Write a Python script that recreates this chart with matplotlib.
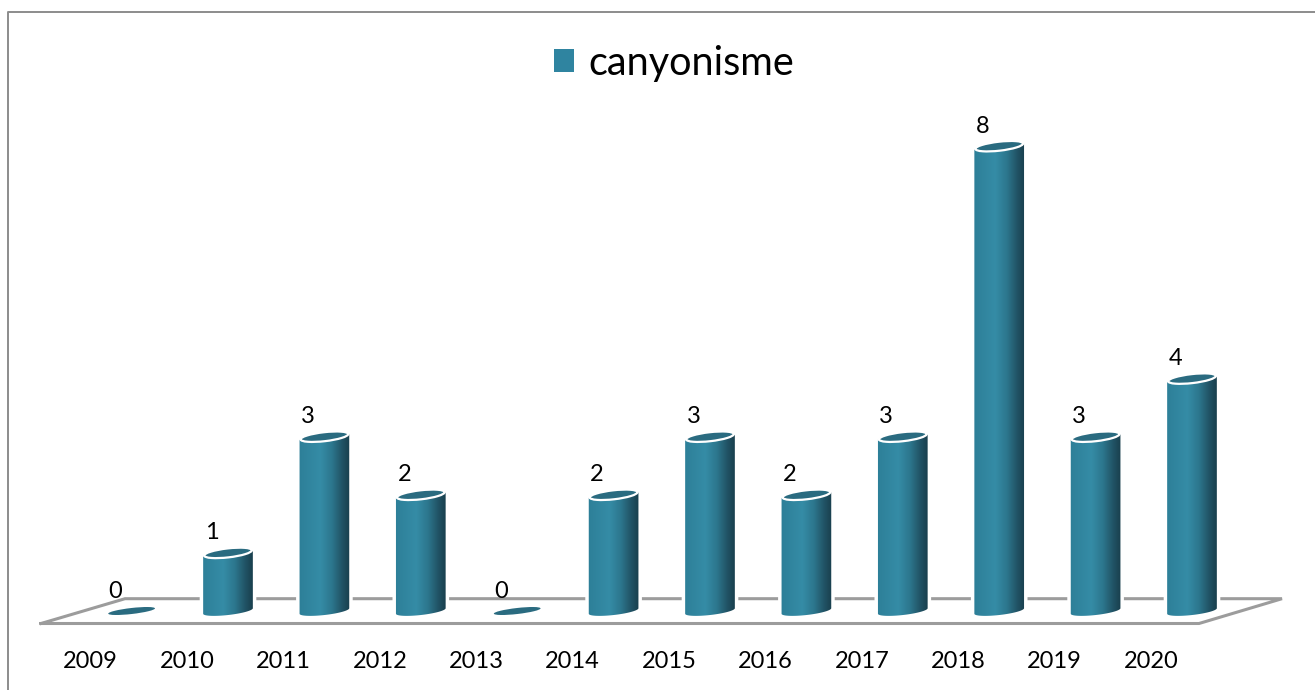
import numpy as np
import matplotlib
matplotlib.use("Agg")
import matplotlib.pyplot as plt
from matplotlib.patches import Ellipse, PathPatch, Patch
from matplotlib.path import Path
from matplotlib.lines import Line2D
from matplotlib.transforms import Affine2D, ScaledTranslation
from matplotlib.colors import LinearSegmentedColormap

years = ["2009", "2010", "2011", "2012", "2013", "2014", "2015", "2016", "2017", "2018", "2019", "2020"]
values = [0, 1, 3, 2, 0, 2, 3, 2, 3, 8, 3, 4]
series_name = "canyonisme"

W, H = 1315, 690
plt.rcParams["font.family"] = ["Lato", "DejaVu Sans"]
fig = plt.figure(figsize=(W / 100, H / 100), dpi=100)

# pixel transform (origin top-left)
px = Affine2D().scale(1, -1).translate(0, H)

AX_BOTTOM = 640
X0, DX = 131.6, 96.4
Y0, DY = 611.0, 58.1
ax = fig.add_axes([0, (H - AX_BOTTOM) / H, 1, AX_BOTTOM / H])
ax.set_xlim(-X0 / DX, (W - X0) / DX)
ax.set_ylim((Y0 - AX_BOTTOM) / DY, Y0 / DY)
for s in ax.spines.values():
    s.set_visible(False)
ax.set_yticks([])
x = np.arange(len(years))
ax.set_xticks(x, years, fontsize=17, color="black")
ax.tick_params(axis="x", length=0, pad=8)
for lab in ax.get_xticklabels():
    lab.set_transform(lab.get_transform() + ScaledTranslation(-41 / 100, 0, fig.dpi_scale_trans))

# outer frame
GRAY = "#8c8c8c"
fig.add_artist(Line2D([8, 8, W], [H, 12, 12], color=GRAY, lw=1.4, transform=px))

# floor
FLOOR = "#9c9c9c"
ax.add_line(Line2D([41, 125, 1282, 1199, 41], [623.5, 598.7, 598.7, 623.5, 623.5], color=FLOOR,
                   lw=2.2, transform=px, zorder=1, solid_joinstyle="miter"))

cmap = LinearSegmentedColormap.from_list("cyl", [
    (0.0, "#2d7f98"), (0.42, "#358ca6"), (0.65, "#2c768d"), (0.85, "#215365"), (1.0, "#193f4d")])
grad = np.linspace(0, 1, 256).reshape(1, -1)

A_BODY, B_BODY = 25.0, 4.0
TILT = np.deg2rad(-6.5)

def arc(cx, cy, t):
    ex, ey = A_BODY * np.cos(t), B_BODY * np.sin(t)
    return cx + ex * np.cos(TILT) - ey * np.sin(TILT), cy + ex * np.sin(TILT) + ey * np.cos(TILT)

for xi, v in zip(x, values):
    cx = X0 + DX * xi
    cy = Y0 - DY * v
    if v > 0:
        # lower arc of the base, then upper arc of the top
        t1 = np.linspace(np.pi, 0, 40)
        bx, by = arc(cx, Y0, t1)
        t2 = np.linspace(0, np.pi, 40)
        tx, ty = arc(cx, cy, t2)
        verts = np.r_[np.c_[bx, by], np.c_[tx, ty], [[bx[0], by[0]]]]
        codes = [Path.MOVETO] + [Path.LINETO] * (len(verts) - 2) + [Path.CLOSEPOLY]
        path = Path(verts, codes)
        halo = PathPatch(path, facecolor="white", edgecolor="white", lw=5, transform=px, zorder=2)
        ax.add_patch(halo)
        w = 25.5 / DX
        im = ax.imshow(grad, cmap=cmap, aspect="auto", extent=(xi - w, xi + w, -0.2, v + 0.2),
                       zorder=3, interpolation="bilinear")
        clip = PathPatch(path, facecolor="none", edgecolor="none", transform=px)
        ax.add_patch(clip)
        im.set_clip_path(clip)
        ax.add_patch(Ellipse((cx, cy), 48, 9, angle=-6.5, facecolor="#2a6b80", edgecolor="white",
                             lw=1.6, transform=px, zorder=4))
    else:
        ax.add_patch(Ellipse((cx, cy), 47, 6, angle=-6.5, facecolor="#2a6b80", edgecolor="none",
                             transform=px, zorder=4))
    ax.annotate(str(v), (xi, v), xytext=(-16.5 * 0.72, 20 * 0.72), textcoords="offset points",
                ha="center", va="center", fontsize=17, color="black", zorder=5)

ax.set_xlim(-X0 / DX, (W - X0) / DX)
ax.set_ylim((Y0 - AX_BOTTOM) / DY, Y0 / DY)

leg = ax.legend(handles=[Patch(facecolor="#2f84a0", label=series_name)], frameon=False,
                loc="center", bbox_to_anchor=(674 / W, (AX_BOTTOM - 63) / AX_BOTTOM),
                fontsize=28.5, handlelength=0.53, handleheight=0.53, handletextpad=0.36,
                borderpad=0, labelcolor="black")

fig.savefig("out.png", dpi=100, facecolor="white")
